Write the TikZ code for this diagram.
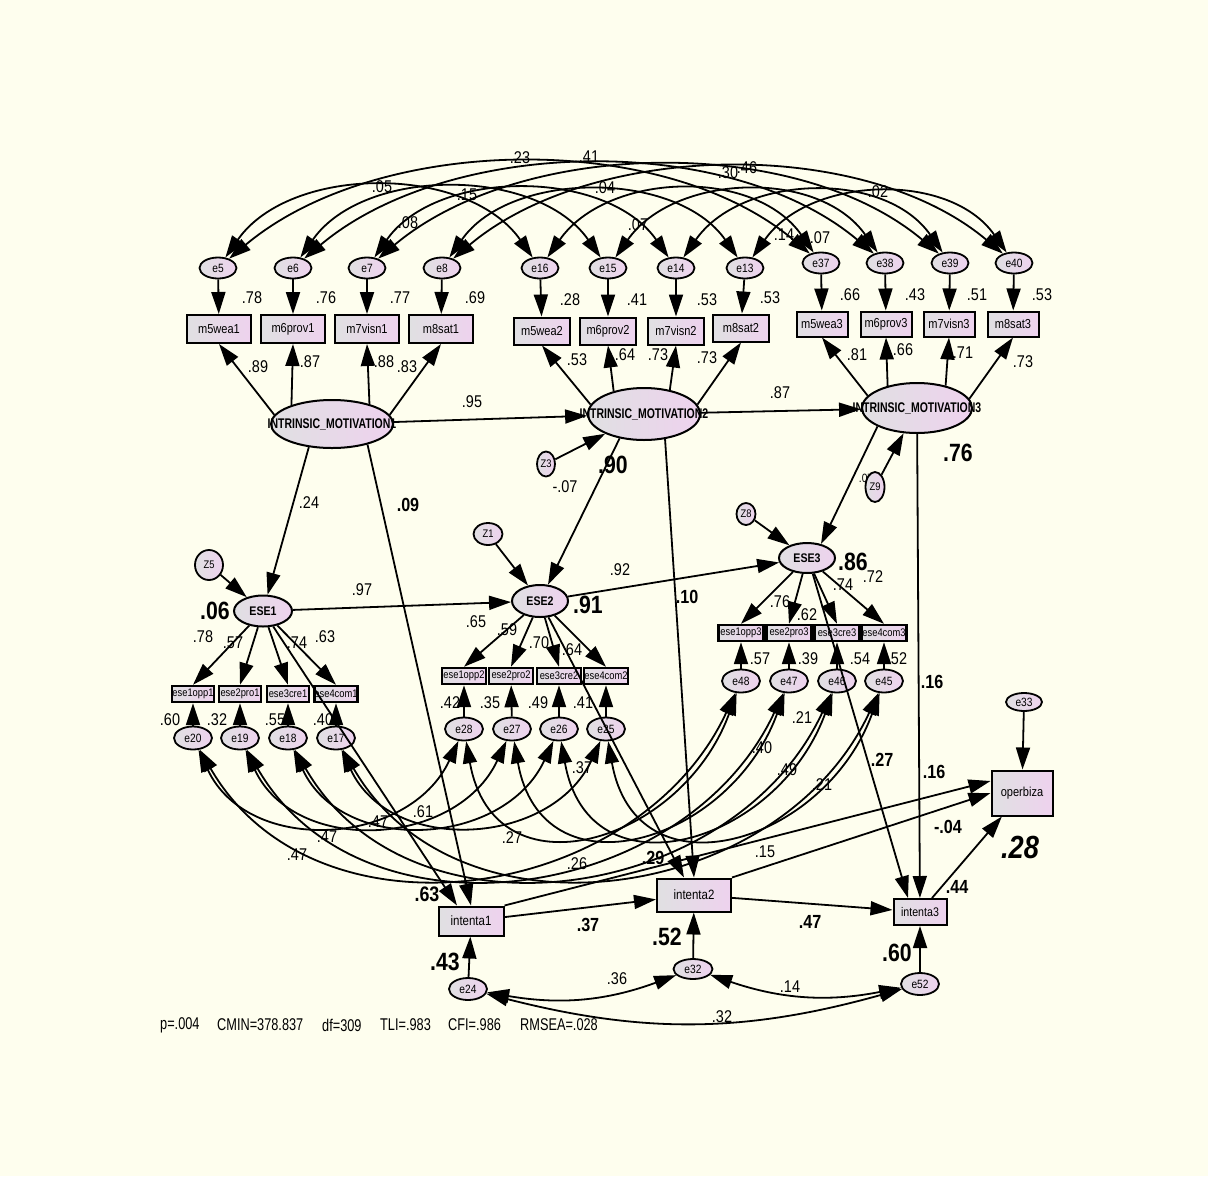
\documentclass[tikz,border=0pt]{standalone}
\usepackage{fontspec}
\usepackage{tikz}
\usetikzlibrary{arrows.meta,shapes.geometric}
\setmainfont{Liberation Sans}
\newfontfamily\amos[FakeStretch=0.85]{Liberation Sans}
\newfontfamily\amosn[FakeStretch=0.75]{Liberation Sans}
\definecolor{paper}{RGB}{254,254,238}
\definecolor{shadeL}{RGB}{224,224,226}
\definecolor{shadeR}{RGB}{238,210,238}

\tikzset{
  obs/.style={draw,line width=2pt,left color=shadeL,right color=shadeR,
    minimum width=64pt,minimum height=28pt,inner sep=0pt,
    font=\amos\fontsize{13}{13}\selectfont},
  ind/.style={obs,minimum width=44pt,minimum height=16pt,line width=2.4pt,
    font=\amos\fontsize{11}{11}\selectfont},
  err/.style={ellipse,draw,line width=1.8pt,left color=shadeL,right color=shadeR,
    minimum width=37pt,minimum height=21pt,inner sep=0pt,
    font=\amos\fontsize{12}{12}\selectfont},
  dist/.style={err,minimum width=19pt,font=\amos\fontsize{11}{11}\selectfont},
  lat/.style={ellipse,draw,line width=2pt,left color=shadeL,right color=shadeR,
    inner sep=0pt,font=\amos\bfseries\fontsize{12.5}{12.5}\selectfont},
  latname/.style={inner sep=0pt,font=\amosn\bfseries\fontsize{14}{14}\selectfont},
  reg/.style={->,line width=1.8pt},
  cov/.style={<->,line width=1.8pt},
  est/.style={inner sep=0pt,font=\amos\fontsize{17}{17}\selectfont},
  bst/.style={inner sep=0pt,font=\amos\bfseries\fontsize{19}{19}\selectfont},
  rsq/.style={inner sep=0pt,font=\amos\bfseries\fontsize{25}{25}\selectfont},
  fit/.style={inner sep=0pt,anchor=west,font=\amosn\fontsize{17}{17}\selectfont}
}

\begin{document}
\begin{tikzpicture}[x=1pt,y=1pt,>={Triangle[length=22pt,width=14pt]}]
\fill[paper] (0,0) rectangle (1208,-1176);
\useasboundingbox (0,0) rectangle (1208,-1176);

% estimate partly hidden under Z9
\node[est,font=\amos\fontsize{12}{12}\selectfont] (estz) at (866,-478) {.07};

% error terms of the motivation items
\foreach \n/\x in {e5/218,e6/293,e7/367,e8/442,e16/540,e15/608,e14/676,e13/745}
  \node[err] (\n) at (\x,-268) {\n};
\foreach \n/\x in {e37/821,e38/885,e39/950,e40/1014}
  \node[err] (\n) at (\x,-263) {\n};

% motivation items
\foreach \n/\x in {m5wea1/219,m6prov1/293,m7visn1/367,m8sat1/441}
  \node[obs] (\n) at (\x,-329) {\n};
\foreach \n/\x/\y in {m5wea2/542/331,m6prov2/608/331,m7visn2/676/331,m8sat2/741/328}
  \node[obs,minimum width=56pt,minimum height=27pt] (\n) at (\x,-\y) {\n};
\foreach \n/\x in {m5wea3/822,m6prov3/886,m7visn3/949,m8sat3/1013}
  \node[obs,minimum width=51pt,minimum height=25pt] (\n) at (\x,-324) {\n};

% latent variables
\node[lat,minimum width=122pt,minimum height=48pt,
  label={[latname]center:INTRINSIC\_MOTIVATION1}] (im1) at (332,-424) {};
\node[lat,minimum width=112pt,minimum height=52pt,
  label={[latname]center:INTRINSIC\_MOTIVATION2}] (im2) at (644,-414) {};
\node[lat,minimum width=110pt,minimum height=50pt,
  label={[latname]center:INTRINSIC\_MOTIVATION3}] (im3) at (917,-408) {};
\node[lat,minimum width=58pt,minimum height=31pt] (ese1) at (263,-611) {ESE1};
\node[lat,minimum width=56pt,minimum height=32pt] (ese2) at (540,-601) {ESE2};
\node[lat,minimum width=56pt,minimum height=30pt] (ese3) at (807,-558) {ESE3};

% disturbances
\node[dist,minimum width=18pt,minimum height=25pt] (z3) at (546,-464) {Z3};
\node[dist,minimum height=30pt] (z9) at (875,-487) {Z9};
\node[dist,minimum height=22pt] (z8) at (746,-514) {Z8};
\node[dist,minimum width=28pt,minimum height=30pt] (z5) at (209,-565) {Z5};
\node[dist,minimum width=29pt,minimum height=22pt] (z1) at (488,-534) {Z1};

% self-efficacy items and their errors
\foreach \n/\x in {ese1opp1/193,ese2pro1/240,ese3cre1/288,ese4com1/336}
  \node[ind,minimum width=42pt] (\n) at (\x,-694) {\n};
\foreach \n/\x in {ese1opp2/464,ese2pro2/511,ese3cre2/559,ese4com2/606}
  \node[ind] (\n) at (\x,-676) {\n};
\foreach \n/\x in {ese1opp3/741,ese2pro3/789,ese3cre3/837,ese4com3/884}
  \node[ind,minimum width=45pt] (\n) at (\x,-633) {\n};
\foreach \n/\x in {e20/193,e19/240,e18/288,e17/336}
  \node[err,minimum width=38pt,minimum height=23pt] (\n) at (\x,-738) {\n};
\foreach \n/\x in {e28/464,e27/512,e26/559,e25/606}
  \node[err,minimum width=38pt,minimum height=23pt] (\n) at (\x,-729) {\n};
\foreach \n/\x in {e48/741,e47/789,e46/837,e45/884}
  \node[err,minimum width=38pt,minimum height=23pt] (\n) at (\x,-681) {\n};

% intention and outcome
\node[obs,minimum width=65pt,minimum height=29pt,font=\amos\fontsize{13.5}{13.5}\selectfont] (intenta1) at (471,-921) {intenta1};
\node[obs,minimum width=74pt,minimum height=33pt,font=\amos\fontsize{13.5}{13.5}\selectfont] (intenta2) at (694,-895) {intenta2};
\node[obs,minimum width=53pt,minimum height=26pt,font=\amos\fontsize{12.5}{12.5}\selectfont] (intenta3) at (920,-912) {intenta3};
\node[obs,minimum width=61pt,minimum height=45pt] (operbiza) at (1022,-793) {operbiza};
\node[err,minimum width=36pt,minimum height=18pt] (e33) at (1024,-702) {e33};
\node[err,minimum width=38pt,minimum height=22pt] (e24) at (468,-989) {e24};
\node[err,minimum width=39pt,minimum height=20pt] (e32) at (693,-969) {e32};
\node[err,minimum width=38pt,minimum height=22pt] (e52) at (920,-984) {e52};

% measurement arrows
\foreach \a/\b in {e5/m5wea1,e6/m6prov1,e7/m7visn1,e8/m8sat1,
                   e16/m5wea2,e15/m6prov2,e14/m7visn2,e13/m8sat2,
                   e37/m5wea3,e38/m6prov3,e39/m7visn3,e40/m8sat3,
                   e20/ese1opp1,e19/ese2pro1,e18/ese3cre1,e17/ese4com1,
                   e28/ese1opp2,e27/ese2pro2,e26/ese3cre2,e25/ese4com2,
                   e48/ese1opp3,e47/ese2pro3,e46/ese3cre3,e45/ese4com3,
                   e33/operbiza,e24/intenta1,e32/intenta2,e52/intenta3}
  \draw[reg] (\a) -- (\b);
\draw[reg] (im1.171) -- (m5wea1.south);
\draw[reg] (im1.155) -- (m6prov1.south);
\draw[reg] (im1.28) -- (m7visn1.south);
\draw[reg] (im1.9) -- (m8sat1.south);
\draw[reg] (im2.170) -- (m5wea2.south);
\draw[reg] (im2.143) -- (m6prov2.south);
\draw[reg] (im2.43) -- (m7visn2.south);
\draw[reg] (im2.10) -- (m8sat2.south);
\draw[reg] (im3.166) -- (m5wea3.south);
\draw[reg] (im3.143) -- (m6prov3.south);
\draw[reg] (im3.38) -- (m7visn3.south);
\draw[reg] (im3.10) -- (m8sat3.south);
\foreach \a/\b in {ese1/ese1opp1,ese1/ese2pro1,ese1/ese3cre1,ese1/ese4com1,
                   ese2/ese1opp2,ese2/ese2pro2,ese2/ese3cre2,ese2/ese4com2,
                   ese3/ese1opp3,ese3/ese2pro3,ese3/ese3cre3,ese3/ese4com3}
  \draw[reg] (\a) -- (\b.north);

% structural arrows
\draw[reg] (im1) -- (im2);
\draw[reg] (im2) -- (im3);
\draw[reg] (z3) -- (im2);
\draw[reg] (z9) -- (im3);
\draw[reg] (z5) -- (ese1);
\draw[reg] (z1) -- (ese2);
\draw[reg] (z8) -- (ese3);
\draw[reg] (im1.225) -- (ese1);
\draw[reg] (im2.225) -- (ese2);
\draw[reg] (im3.205) -- (ese3.45);
\draw[reg] (ese1) -- (ese2);
\draw[reg] (ese2) -- (ese3);
\draw[reg] (im1.330) -- (intenta1.north);
\draw[reg] (im2.310) -- (intenta2.north);
\draw[reg] (im3) -- (intenta3);
\draw[reg] (ese1) -- ([xshift=-14pt]intenta1.north);
\draw[reg] (ese2) -- ([xshift=-10pt]intenta2.north);
\draw[reg] (ese3.290) -- ([xshift=-12pt]intenta3.north);
\draw[reg] (intenta1) -- (intenta2);
\draw[reg] (intenta2) -- (intenta3);
\draw[reg] (intenta1.north east) -- ([yshift=12pt]operbiza.west);
\draw[reg] (intenta2.north east) -- (operbiza.west);
\draw[reg] (intenta3) -- (operbiza);

% covariances between errors over time
\foreach \a/\b/\c in {e5/e16/e37,e6/e15/e38,e7/e14/e39,e8/e13/e40}{
  \draw[cov] (\a) to[out=55,in=125,looseness=0.95] (\b);
  \draw[cov] (\a) to[out=40,in=140,looseness=0.85] (\c);
  \draw[cov] (\b) to[out=55,in=125] (\c);
}
\foreach \a/\b/\c in {e20/e28/e48,e19/e27/e47,e18/e26/e46,e17/e25/e45}{
  \draw[cov] (\a) to[out=-65,in=-115,looseness=1.15] (\b);
  \draw[cov] (\a) to[out=-60,in=-115,looseness=1.1] (\c);
  \draw[cov] (\b) to[out=-80,in=-110,looseness=1.5] (\c);
}
\draw[cov] (e24) to[bend right=15] (e32);
\draw[cov] (e32) to[bend right=15] (e52);
\draw[cov] (e24) to[bend right=15] (e52);

% estimates
\foreach \t/\x/\y [count=\i] in {.05/382/187,.15/467/195,.08/408/223,.23/520/158,
    .41/589/157,.04/605/188,.07/638/225,.30/728/173,.46/747/168,.02/878/192,
    .14/784/235,.07/820/238,
    .78/252/298,.76/326/298,.77/400/298,.69/475/298,.28/570/300,.41/637/300,
    .53/707/300,.53/770/298,.66/850/295,.43/915/295,.51/977/295,.53/1042/295,
    .89/258/367,.87/310/362,.88/384/362,.83/407/367,.53/577/360,.64/625/355,
    .73/658/355,.73/707/358,.81/857/355,.66/903/350,.71/963/353,.73/1023/362,
    .95/472/402,.87/780/393,-.07/565/487,.24/309/503,
    .78/203/637,.57/233/643,.74/297/643,.63/325/637,.60/170/720,.32/217/720,
    .55/275/720,.40/323/720,.97/362/590,.65/476/622,.59/507/630,.70/539/643,
    .64/572/650,.42/450/703,.35/490/703,.49/538/703,.41/583/703,.92/620/570,
    .76/780/602,.62/807/615,.74/843/585,.72/873/577,.57/760/659,.39/808/659,
    .54/860/659,.52/897/659,.21/802/718,.40/762/748,.49/787/770,.21/822/785,
    .37/582/768,.61/423/812,.47/378/822,.47/327/837,.47/297/855,.27/512/838,
    .26/577/864,.15/765/852,.36/617/979,.14/790/987,.32/722/1017}
  \node[est] (est\i) at (\x,-\y) {\t};
\foreach \t/\x/\y [count=\i] in {.09/408/505,.10/687/597,.16/932/682,.16/934/772,
    .27/882/760,-.04/948/827,.37/588/925,.47/810/922,.29/653/858,.44/957/887}
  \node[bst] (bst\i) at (\x,-\y) {\t};
\node[bst,font=\amos\bfseries\fontsize{21}{21}\selectfont] (bst11) at (427,-894) {.63};
\foreach \t/\x/\y [count=\i] in {.90/613/465,.76/958/453,.06/215/611,.91/588/605,
    .86/853/562,.43/445/962,.52/667/937,.60/897/953}
  \node[rsq] (rsq\i) at (\x,-\y) {\t};
\node[rsq,font=\amos\bfseries\itshape\fontsize{32}{32}\selectfont] (rsq9) at (1020,-847) {.28};

% fit indices
\foreach \t/\x [count=\i] in {p=.004/160,CMIN=378.837/217,df=309/322,
    TLI=.983/380,CFI=.986/448,RMSEA=.028/520}
  \node[fit] (fit\i) at (\x,-1025) {\t};
\end{tikzpicture}
\end{document}
